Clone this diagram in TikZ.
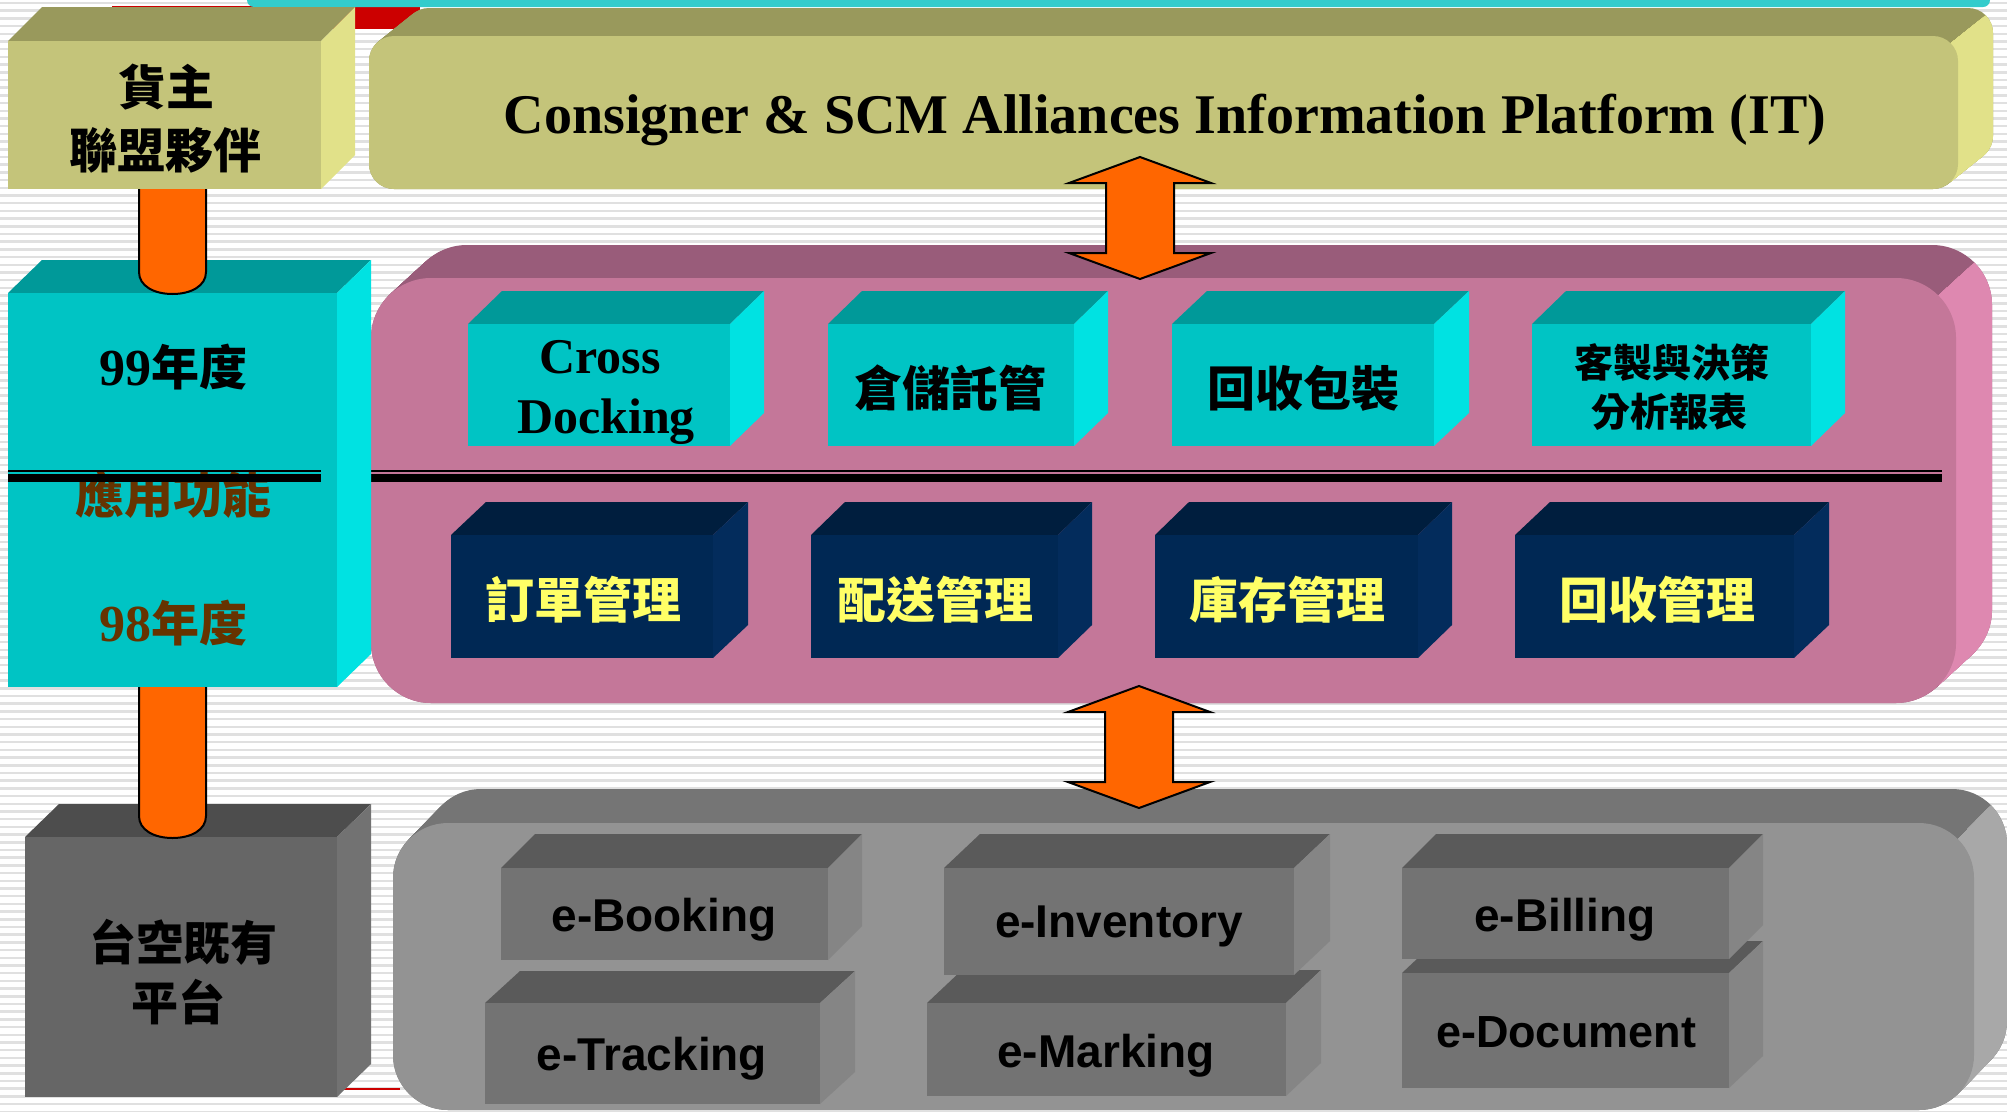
\documentclass[tikz,border=0pt]{standalone}
\usepackage{fontspec}
\setmainfont{Liberation Serif}
\newfontfamily\arialf{Liberation Sans}
\newfontfamily\cjkf{Noto Sans CJK TC}
\usetikzlibrary{calc}

\definecolor{olfront}{RGB}{196,196,122}
\definecolor{oltop}{RGB}{153,153,92}
\definecolor{olside}{RGB}{225,225,137}
\definecolor{cyfront}{RGB}{0,196,196}
\definecolor{cytop}{RGB}{0,153,153}
\definecolor{cyside}{RGB}{0,226,226}
\definecolor{pkfront}{RGB}{196,119,153}
\definecolor{pktop}{RGB}{153,92,122}
\definecolor{pkside}{RGB}{222,136,176}
\definecolor{gpfront}{RGB}{147,147,147}
\definecolor{gptop}{RGB}{117,117,117}
\definecolor{gpside}{RGB}{168,168,168}
\definecolor{gifront}{RGB}{115,115,115}
\definecolor{gitop}{RGB}{90,90,90}
\definecolor{giside}{RGB}{133,133,133}
\definecolor{dgfront}{RGB}{102,102,102}
\definecolor{dgtop}{RGB}{77,77,77}
\definecolor{dgside}{RGB}{114,114,114}
\definecolor{nvfront}{RGB}{0,40,84}
\definecolor{nvtop}{RGB}{0,30,62}
\definecolor{nvside}{RGB}{3,44,92}
\definecolor{orangec}{RGB}{255,102,0}
\definecolor{brownc}{RGB}{102,51,0}
\definecolor{yellowc}{RGB}{255,255,102}
\definecolor{redc}{RGB}{204,0,0}
\definecolor{cyanbar}{RGB}{51,204,204}
\definecolor{stripec}{RGB}{224,224,224}

% cuboid: name, L, T, R, B, dx, dy, colour prefix
\newcommand{\cuboid}[8]{%
  \fill[#8top] (#2,#3) -- ++(#6,-#7) -- ++({#4-#2},0) -- (#4,#3) -- cycle;
  \fill[#8side] (#4,#3) -- ++(#6,-#7) -- ++(0,{#5-#3}) -- (#4,#5) -- cycle;
  \node[facebox, minimum width={#4-#2}, minimum height={#5-#3}, fill=#8front] (#1) at (#2,#3) {};
}
% rounded extruded panel: name, L, T, R, B, dx, dy, radius, colour prefix
\newcommand{\panel}[9]{%
  \foreach \k in {0,...,40}{\fill[#9top, rounded corners=#8pt] ({#2+\k*#6/40},{#3-\k*#7/40}) rectangle ({#4+\k*#6/40},{#5-\k*#7/40});}
  \begin{scope}
    \clip ({#4-0.29*#8},{#3+0.29*#8}) -- ++({3*#6},{-3*#7}) -- ({#4+300},{#5+300}) -- ({#4-0.29*#8},{#5+300}) -- cycle;
    \foreach \k in {0,...,40}{\fill[#9side, rounded corners=#8pt] ({#2+\k*#6/40},{#3-\k*#7/40}) rectangle ({#4+\k*#6/40},{#5-\k*#7/40});}
  \end{scope}
  \node[facebox, rounded corners=#8pt, minimum width={#4-#2}, minimum height={#5-#3}, fill=#9front] (#1) at (#2,#3) {};
}

\begin{document}
\begin{tikzpicture}[x=1pt,y=-1pt,
  facebox/.style={anchor=north west, inner sep=0pt, outer sep=0pt},
  cjkt/.style={font=\cjkf\bfseries\fontsize{#1pt}{#1pt}\selectfont, inner sep=0pt, anchor=center},
  serifb/.style={font=\bfseries\fontsize{#1pt}{#1pt}\selectfont, inner sep=0pt, anchor=base},
  sansb/.style={font=\arialf\bfseries\fontsize{#1pt}{#1pt}\selectfont, inner sep=0pt, anchor=base},
  dblarrow/.style={fill=orangec, draw=black, line width=2pt, line join=miter},
  barstyle/.style={fill=orangec, draw=black, line width=2pt},
  thinrule/.style={draw=black, line width=2pt},
  thickrule/.style={draw=black, line width=7.5pt}]
\useasboundingbox (0,0) rectangle (2007,1111);
\clip (0,0) rectangle (2007,1111);
\fill[white] (0,0) rectangle (2007,1111);
\foreach \i in {0,...,144} {\draw[stripec, line width=2.5pt] (0,{3+\i*7.7}) -- (2007,{3+\i*7.7});}

% decorative bars of the template
\fill[redc] (112,6) rectangle (420,29);
\draw[redc, line width=1.2pt] (110,1089) -- (400,1089);
\fill[cyanbar, rounded corners=7pt] (247,-20) rectangle (1990,7);

% ---------- top panel ----------
\panel{pl1}{369}{36}{1958}{189}{35}{28}{25}{ol}
\node[serifb=56] (tIT) at (1165,133) {Consigner \& SCM Alliances Information Platform (IT)};

% ---------- middle panel ----------
\panel{pl2}{371}{278}{1956}{703}{36}{33}{60}{pk}
\cuboid{c1}{468}{324}{730}{446}{34}{33}{cy}
\cuboid{c2}{828}{324}{1074}{446}{34}{33}{cy}
\cuboid{c3}{1172}{324}{1434}{446}{35}{33}{cy}
\cuboid{c4}{1532}{324}{1811}{446}{34}{33}{cy}
\cuboid{n1}{451}{535}{713}{658}{35}{33}{nv}
\cuboid{n2}{811}{535}{1058}{658}{34}{33}{nv}
\cuboid{n3}{1155}{535}{1418}{658}{34}{33}{nv}
\cuboid{n4}{1515}{535}{1794}{658}{35}{33}{nv}
\node[serifb=50] (tCross) at (600,373) {Cross};
\node[serifb=50] (tDock) at (606,433) {Docking};
\node[cjkt=48] (tC2) at (950,388) {倉儲託管};
\node[cjkt=48] (tC3) at (1303,388) {回收包裝};
\node[cjkt=39] (tC4a) at (1672,363) {客製與決策};
\node[cjkt=39] (tC4b) at (1669,412) {分析報表};
\node[cjkt=49, text=yellowc] (tN1) at (583,600) {訂單管理};
\node[cjkt=49, text=yellowc] (tN2) at (935,600) {配送管理};
\node[cjkt=49, text=yellowc] (tN3) at (1287,600) {庫存管理};
\node[cjkt=49, text=yellowc] (tN4) at (1657,600) {回收管理};
\draw[thinrule] (371,470.5) -- (1942,470.5);
\draw[thickrule] (371,478) -- (1942,478);

% ---------- bottom panel ----------
\panel{pl3}{393}{823}{1974}{1110}{33}{34}{55}{gp}
\cuboid{g2}{485}{1003}{820}{1104}{35}{32}{gi}
\cuboid{g1}{501}{868}{828}{960}{34}{34}{gi}
\cuboid{g4}{927}{1003}{1286}{1096}{35}{33}{gi}
\cuboid{g3}{944}{868}{1294}{975}{36}{34}{gi}
\cuboid{g6}{1402}{973}{1729}{1088}{34}{32}{gi}
\cuboid{g5}{1402}{868}{1729}{959}{34}{34}{gi}
\node[sansb=46] (tBook) at (664,931) {e-Booking};
\node[sansb=46] (tTrack) at (652,1070) {e-Tracking};
\node[sansb=46] (tInv) at (1119,937) {e-Inventory};
\node[sansb=46] (tMark) at (1106,1067) {e-Marking};
\node[sansb=46] (tBill) at (1565,931) {e-Billing};
\node[sansb=45] (tDoc) at (1566,1047) {e-Document};

% ---------- double arrows between panels ----------
\coordinate (at1) at (1140,157);
\draw[dblarrow] (at1) -- ++(71,26) -- ++(-37,0) -- ++(0,70) -- ++(37,0) -- ++(-71,26)
  -- ++(-71,-26) -- ++(37,0) -- ++(0,-70) -- ++(-37,0) -- cycle;
\coordinate (at2) at (1139,686);
\draw[dblarrow] (at2) -- ++(71,26) -- ++(-37,0) -- ++(0,70) -- ++(37,0) -- ++(-71,26)
  -- ++(-71,-26) -- ++(37,0) -- ++(0,-70) -- ++(-37,0) -- cycle;

% ---------- left column ----------
% placeholders so that the connectors can refer to the boxes drawn above them
\node[facebox, minimum width=313, minimum height=148] (b1) at (8,41) {};
\node[facebox, minimum width=329, minimum height=394] (b2) at (8,293) {};
\cuboid{b3}{25}{837}{337}{1097}{34}{33}{dg}
\node[cjkt=47] (tB3a) at (183,942) {台空既有};
\node[cjkt=47] (tB3b) at (178,1002) {平台};
\filldraw[barstyle] ($(b2.south)+(-33.5,-30)$) -- ($(b2.south |- b3.north)+(-33.5,-21)$)
  .. controls +(0,14) and +(-18.5,0) .. ($(b2.south |- b3.north)+(0,1)$)
  .. controls +(18.5,0) and +(0,14) .. ($(b2.south |- b3.north)+(33.5,-21)$)
  -- ($(b2.south)+(33.5,-30)$);

\cuboid{b2}{8}{293}{337}{687}{34}{33}{cy}
\node[cjkt=48] (tB2a) at (173,367) {{\rmfamily\fontsize{52pt}{52pt}\selectfont 99}年度};
\node[cjkt=49, text=brownc] (tB2b) at (173,495) {應用功能};
\node[cjkt=48, text=brownc] (tB2c) at (173,623) {{\rmfamily\fontsize{52pt}{52pt}\selectfont 98}年度};
\draw[thinrule] (8,470.5) -- (321,470.5);
\draw[thickrule] (8,478) -- (321,478);

\filldraw[barstyle] ($(b1.south -| b2.north)+(-33.5,-30)$) -- ($(b2.north)+(-33.5,-21)$)
  .. controls +(0,14) and +(-18.5,0) .. ($(b2.north)+(0,1)$)
  .. controls +(18.5,0) and +(0,14) .. ($(b2.north)+(33.5,-21)$)
  -- ($(b1.south -| b2.north)+(33.5,-30)$);

\cuboid{b1}{8}{41}{321}{189}{34}{34}{ol}
\node[cjkt=48] (tB1a) at (166,87) {貨主};
\node[cjkt=48] (tB1b) at (165,150) {聯盟夥伴};
\end{tikzpicture}
\end{document}
